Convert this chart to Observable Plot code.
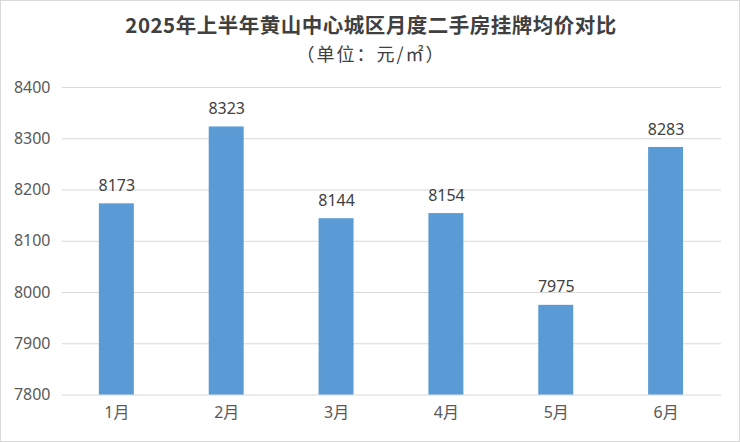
<!DOCTYPE html>
<html>
<head>
<meta charset="utf-8">
<script src="https://cdn.jsdelivr.net/npm/d3@7"></script>
<script src="https://cdn.jsdelivr.net/npm/@observablehq/plot@0.6"></script>
<style>
  html, body { margin: 0; padding: 0; background: #fff; }
  #wrap { position: relative; width: 740px; height: 442px; box-sizing: border-box; border: 1px solid #d9d9d9; overflow: hidden; font-family: "Noto Sans", "Noto Sans CJK SC", sans-serif; }
  #title { position: absolute; left: 0; top: 8px; width: 740px; text-align: center; font-size: 20.5px; letter-spacing: 0.5px; font-weight: bold; color: #404040; line-height: 30px; font-family: "Noto Sans CJK SC", sans-serif; }
  #subtitle { position: absolute; left: 0; top: 39px; width: 740px; text-align: center; font-size: 18px; letter-spacing: 2px; color: #404040; line-height: 26px; font-family: "Noto Sans CJK SC", sans-serif; text-spacing-trim: space-all; }
  #chart { position: absolute; left: -1px; top: 65px; }
</style>
</head>
<body>
<div id="wrap">
  <div id="title">2025年上半年黄山中心城区月度二手房挂牌均价对比</div>
  <div id="subtitle">（单位：元/㎡）</div>
  <div id="chart"></div>
</div>
<script>
const months = ["1月", "2月", "3月", "4月", "5月", "6月"];
const prices = [8173, 8323, 8144, 8154, 7975, 8283];
const yTicks = [7800, 7900, 8000, 8100, 8200, 8300, 8400];

const data = months.map((m, i) => ({month: m, price: prices[i]}));

const chart = Plot.plot({
  width: 740,
  height: 377,
  marginTop: 21,
  marginBottom: 48,
  marginLeft: 62,
  marginRight: 18,
  style: {fontFamily: '"Noto Sans", "Noto Sans CJK SC", sans-serif', fontSize: "16px", color: "#595959", background: "transparent"},
  x: {domain: months, paddingInner: 0.68, paddingOuter: 0.34, label: null},
  y: {domain: [7800, 8400], label: null},
  marks: [
    Plot.ruleY(yTicks, {stroke: "#d9d9d9", strokeWidth: 1}),
    Plot.barY(data, {x: "month", y1: 7800, y2: "price", fill: "#5B9BD5"}),
    Plot.text(data, {x: "month", y: "price", text: d => String(d.price), dy: -18, fill: "#404040", fontSize: 16}),
    Plot.axisY({ticks: yTicks, tickFormat: d => String(d), tickSize: 0, tickPadding: 12, fontSize: 16, fill: "#595959", label: null}),
    Plot.axisX({tickSize: 0, tickPadding: 12, fontSize: 16, fill: "#595959", label: null})
  ]
});
document.getElementById("chart").appendChild(chart);
</script>
</body>
</html>
